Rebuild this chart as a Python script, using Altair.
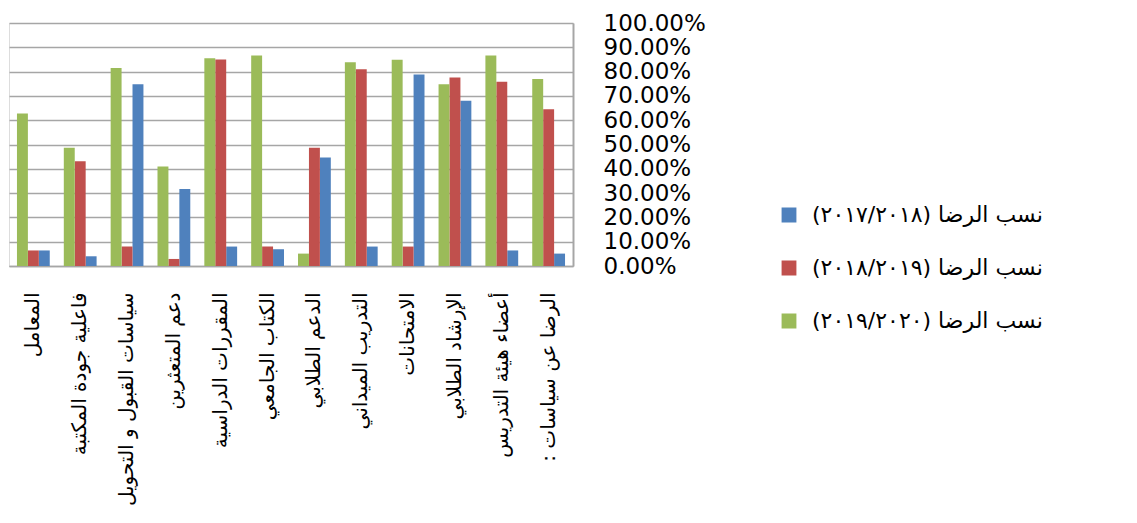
import altair as alt
import pandas as pd

categories = [
    "المعامل",
    "فاعلية جودة المكتبة",
    "سياسات القبول و التحويل",
    "دعم المتعثرين",
    "المقررات الدراسية",
    "الكتاب الجامعي",
    "الدعم الطلابي",
    "التدريب الميداني",
    "الامتحانات",
    "الإرشاد الطلابي",
    "أعضاء هيئة التدريس",
    "الرضا عن سياسات :",
]

series_names = [
    "نسب الرضا  (٢٠١٧/٢٠١٨)",
    "نسب الرضا (٢٠١٨/٢٠١٩)",
    "نسب الرضا (٢٠١٩/٢٠٢٠)",
]
series_colors = ["#4F81BD", "#C0504D", "#9BBB59"]

vals_2017_2018 = [0.064, 0.040, 0.748, 0.317, 0.080, 0.069, 0.447, 0.080, 0.788, 0.680, 0.064, 0.051]
vals_2018_2019 = [0.064, 0.431, 0.080, 0.029, 0.850, 0.080, 0.487, 0.810, 0.080, 0.776, 0.758, 0.645]
vals_2019_2020 = [0.628, 0.487, 0.815, 0.409, 0.855, 0.866, 0.051, 0.838, 0.849, 0.748, 0.866, 0.770]

RLE, PDF = "\u202b", "\u202c"
cat_disp = [RLE + c + PDF for c in categories]
ser_disp = [RLE + s + PDF for s in series_names]

rows = []
for si, vals in enumerate([vals_2017_2018, vals_2018_2019, vals_2019_2020]):
    for ci, v in enumerate(vals):
        rows.append({"category": cat_disp[ci], "series": ser_disp[si], "value": v})
df = pd.DataFrame(rows)

grid_color = "#a6a6a6"

chart = alt.Chart(df).mark_bar().encode(
    x=alt.X(
        "category:N",
        sort=cat_disp,
        scale=alt.Scale(paddingInner=0.3, paddingOuter=0.17),
        axis=alt.Axis(
            title=None,
            labelAngle=-90,
            labelAlign="right",
            labelBaseline="middle",
            labelFont="DejaVu Sans",
            labelFontSize=20,
            labelColor="#000000",
            labelPadding=26,
            labelLimit=0,
            ticks=False,
            domainColor=grid_color,
            domainWidth=1.5,
        ),
    ),
    xOffset=alt.XOffset(
        "series:N",
        scale=alt.Scale(domain=[ser_disp[2], ser_disp[1], ser_disp[0]], paddingInner=0, paddingOuter=0),
    ),
    y=alt.Y(
        "value:Q",
        scale=alt.Scale(domain=[0, 1], nice=False),
        axis=alt.Axis(
            title=None,
            orient="right",
            format=".2%",
            values=[i / 10 for i in range(11)],
            labelAlign="left",
            labelBaseline="middle",
            labelFont="DejaVu Sans",
            labelFontSize=23,
            labelColor="#000000",
            labelPadding=30,
            ticks=False,
            domainColor=grid_color,
            domainWidth=2,
            gridColor=grid_color,
            gridWidth=1.5,
            gridOpacity=1,
        ),
    ),
    color=alt.Color(
        "series:N",
        scale=alt.Scale(domain=ser_disp, range=series_colors),
        legend=alt.Legend(
            title=None,
            orient="none",
            legendX=769,
            legendY=180,
            symbolType="square",
            symbolSize=220,
            symbolStrokeWidth=0,
            labelFont="DejaVu Sans",
            labelFontSize=22,
            labelColor="#000000",
            labelLimit=0,
            labelOffset=12,
            clipHeight=24,
            rowPadding=29,
            padding=0,
        ),
    ),
).properties(
    width=564,
    height=243,
    padding={"left": 1, "top": 4, "right": 5, "bottom": 0},
).configure_view(stroke=None).configure(background="white")

chart.save("out.html", embed_options={"renderer": "svg", "actions": False})
